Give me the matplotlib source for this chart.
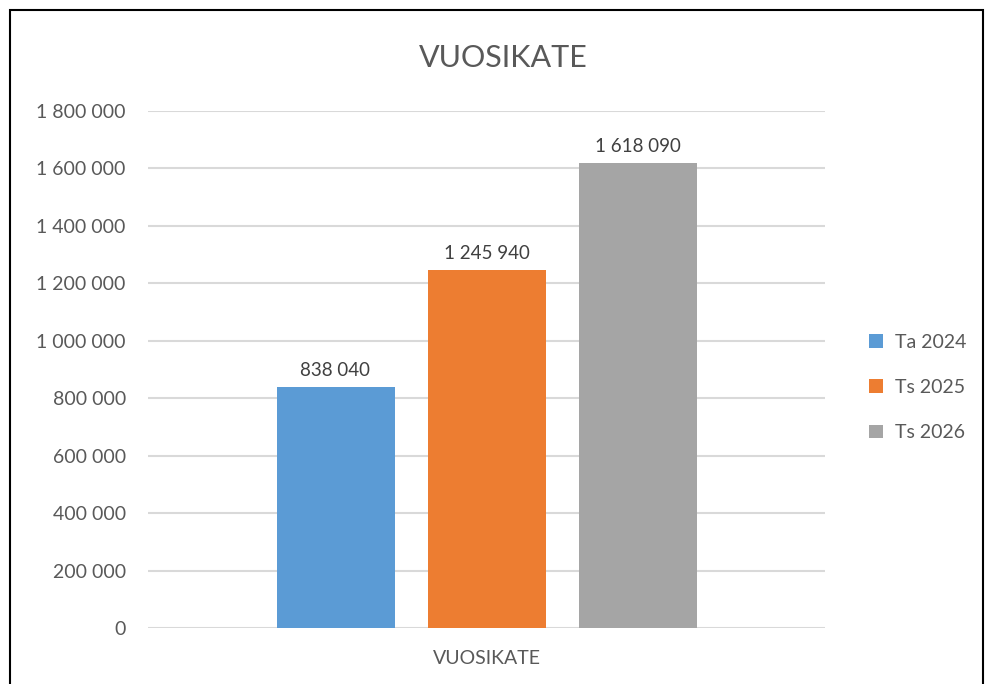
import matplotlib.pyplot as plt
import numpy as np
from matplotlib.patches import Rectangle
from matplotlib.ticker import FuncFormatter

plt.rcParams['font.family'] = ['Lato', 'DejaVu Sans']

series = ['Ta 2024', 'Ts 2025', 'Ts 2026']
values = [838040, 1245940, 1618090]
colors = ['#5b9bd5', '#ed7d31', '#a5a5a5']
category = 'VUOSIKATE'


def fmt(v, pos=None):
    return '{:,.0f}'.format(v).replace(',', ' ')


fig = plt.figure(figsize=(9.85, 6.84), dpi=100)
ax = fig.add_axes([148 / 985, 1 - 628 / 684, 677 / 985, 517 / 684])

offsets = np.array([-151, 0, 151]) / 677.0
width = 118 / 677.0
for off, v, c, name in zip(offsets, values, colors, series):
    ax.bar(off, v, width, color=c, label=name, zorder=3)
    ax.text(off, v + 30000, fmt(v), ha='center', va='bottom',
            fontsize=13.5, color='#404040')

ax.set_xlim(-0.5, 0.5)
ax.set_ylim(0, 1800000)
ax.set_yticks(np.arange(0, 1800001, 200000))
ax.yaxis.set_major_formatter(FuncFormatter(fmt))
ax.set_xticks([0])
ax.set_xticklabels([category])
ax.tick_params(axis='both', length=0, labelsize=14, colors='#595959')
ax.tick_params(axis='y', pad=16)
ax.tick_params(axis='x', pad=16)
ax.grid(axis='y', color='#d9d9d9', linewidth=1.5, zorder=0)
for s in ax.spines.values():
    s.set_visible(False)

fig.suptitle(category, x=503 / 985, y=1 - 58 / 684, va='center',
             fontsize=22, color='#595959')

leg = ax.legend(loc='center left', bbox_to_anchor=((852 - 148) / 677, 0.465),
                frameon=False, fontsize=14, handlelength=0.7, handleheight=0.7,
                labelspacing=1.45, handletextpad=0.6)
for t in leg.get_texts():
    t.set_color('#595959')

# border around the chart
fig.patches.append(Rectangle((10 / 985, -0.01), (983 - 10) / 985, 1.01 - 10 / 684,
                             transform=fig.transFigure, fill=False,
                             edgecolor='black', linewidth=1.5))

fig.savefig('out.png', dpi=100)
